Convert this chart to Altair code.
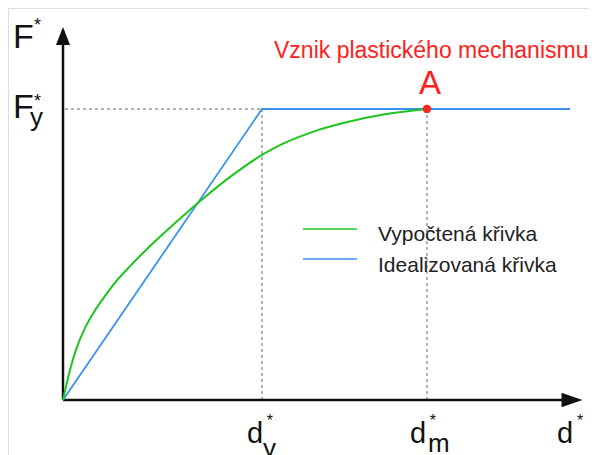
import altair as alt
import pandas as pd

# ---- data (normalised units: d_y = 1, F_y = 1) ----
calc_d = [0, 0.035, 0.069, 0.111, 0.152, 0.203, 0.270, 0.337, 0.421, 0.487, 0.563, 0.70,
          0.85, 1.00, 1.10, 1.27, 1.44, 1.61, 1.829]
calc_F = [0, 0.103, 0.180, 0.248, 0.298, 0.350, 0.410, 0.460, 0.518, 0.561, 0.608, 0.690,
          0.772, 0.842, 0.879, 0.925, 0.957, 0.981, 1.0]
ideal_d = [0, 1.0, 2.548]
ideal_F = [0, 1.0, 1.0]
d_y = 1.0
d_m = 1.829
F_y = 1.0
legend_labels = ["Vypočtená křivka", "Idealizovaná křivka"]
title_text = "Vznik plastického mechanismu"
point_label = "A"

GREEN = "#1ec41e"
BLUE = "#3a92f0"
RED = "#ff2020"
INK = "#111111"
FONT = "Liberation Sans"

W, H = 581, 447
xs = alt.Scale(domain=[-0.27638, 2.64322], nice=False, zero=False)
ys = alt.Scale(domain=[-0.18900, 1.34708], nice=False, zero=False)


def X(f="x"):
    return alt.X(f"{f}:Q", scale=xs, axis=None)


def Y(f="y"):
    return alt.Y(f"{f}:Q", scale=ys, axis=None)


# dashed guide lines
guides = pd.DataFrame({
    "x": [0.01, d_y, d_m], "x2": [d_y, d_y, d_m],
    "y": [F_y, F_y, F_y], "y2": [F_y, 0, 0],
})
guide_layer = alt.Chart(guides).mark_rule(color="#666666", strokeWidth=1, strokeDash=[3, 3]).encode(
    x=X(), x2="x2:Q", y=Y(), y2="y2:Q")

# axes
axes = pd.DataFrame({"x": [0, 0], "x2": [0, 2.56], "y": [0, 0], "y2": [1.27, 0]})
axis_layer = alt.Chart(axes).mark_rule(color=INK, strokeWidth=2.5).encode(
    x=X(), x2="x2:Q", y=Y(), y2="y2:Q")

arrows = pd.DataFrame({
    "x": [0, 2.5578], "y": [1.2509, 0],
    "shape": ["M0,-1L0.78,1L-0.78,1Z", "M1,0L-1,0.68L-1,-0.68Z"],
    "size": [324, 441],
})
arrow_layer = alt.Chart(arrows).mark_point(filled=True, color=INK, opacity=1, strokeWidth=0).encode(
    x=X(), y=Y(), shape=alt.Shape("shape:N", scale=None), size=alt.Size("size:Q", scale=None))

# curves
ideal = pd.DataFrame({"x": ideal_d, "y": ideal_F, "o": range(len(ideal_d))})
ideal_layer = alt.Chart(ideal).mark_line(color=BLUE, strokeWidth=1.8).encode(x=X(), y=Y(), order="o:Q")

calc = pd.DataFrame({"x": calc_d, "y": calc_F, "o": range(len(calc_d))})
calc_layer = alt.Chart(calc).mark_line(color=GREEN, strokeWidth=2, interpolate="monotone").encode(
    x=X(), y=Y(), order="o:Q")

pt = pd.DataFrame({"x": [d_m], "y": [F_y]})
pt_layer = alt.Chart(pt).mark_point(filled=True, color=RED, opacity=1, size=70).encode(x=X(), y=Y())

# legend
leg = pd.DataFrame({"x": [1.206, 1.206], "x2": [1.477, 1.477], "y": [0.5876, 0.4845],
                    "c": [GREEN, BLUE]})
leg_layer = alt.Chart(leg).mark_rule(strokeWidth=1.5).encode(
    x=X(), x2="x2:Q", y=Y(), color=alt.Color("c:N", scale=None))

# texts (left aligned)
left_txt = pd.DataFrame([
    {"t": "F", "x": -0.251, "y": 1.2096, "s": 34, "c": INK},
    {"t": "F", "x": -0.251, "y": 0.969, "s": 34, "c": INK},
    {"t": "y", "x": -0.1658, "y": 0.9399, "s": 26, "c": INK},
    {"t": "d", "x": 0.9246, "y": -0.1478, "s": 29, "c": INK},
    {"t": "y", "x": 1.005, "y": -0.1942, "s": 26, "c": INK},
    {"t": "d", "x": 1.7437, "y": -0.1478, "s": 29, "c": INK},
    {"t": "m", "x": 1.834, "y": -0.1787, "s": 26, "c": INK},
    {"t": "d", "x": 2.4824, "y": -0.1478, "s": 29, "c": INK},
    {"t": title_text, "x": 1.0603, "y": 1.1753, "s": 23, "c": RED},
    {"t": legend_labels[0], "x": 1.583, "y": 0.5464, "s": 21, "c": "#222222"},
    {"t": legend_labels[1], "x": 1.583, "y": 0.4399, "s": 21, "c": "#222222"},
])
left_layer = alt.Chart(left_txt).mark_text(align="left", baseline="alphabetic", font=FONT).encode(
    x=X(), y=Y(), text="t:N", size=alt.Size("s:Q", scale=None), color=alt.Color("c:N", scale=None))

center_txt = pd.DataFrame([
    {"t": "*", "x": -0.128, "y": 1.268, "s": 18, "c": INK},
    {"t": "*", "x": -0.128, "y": 1.0069, "s": 18, "c": INK},
    {"t": "*", "x": 1.040, "y": -0.0887, "s": 16, "c": INK},
    {"t": "*", "x": 1.859, "y": -0.0887, "s": 16, "c": INK},
    {"t": "*", "x": 2.598, "y": -0.0887, "s": 16, "c": INK},
    {"t": point_label, "x": 1.844, "y": 1.0515, "s": 33, "c": RED},
])
center_layer = alt.Chart(center_txt).mark_text(align="center", baseline="alphabetic", font=FONT).encode(
    x=X(), y=Y(), text="t:N", size=alt.Size("s:Q", scale=None), color=alt.Color("c:N", scale=None))

chart = alt.layer(
    guide_layer, axis_layer, arrow_layer, ideal_layer, calc_layer, pt_layer,
    leg_layer, left_layer, center_layer
).properties(
    width=W, height=H, padding=0, autosize=alt.AutoSizeParams(type="none")
).configure_view(stroke=None).configure(background="white")

chart.save("out.html", embed_options={"renderer": "svg", "actions": False})
